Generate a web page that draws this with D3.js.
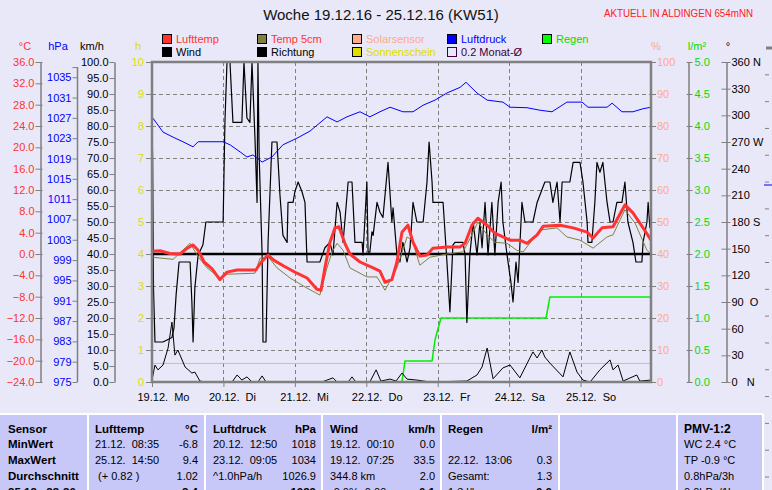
<!DOCTYPE html>
<html><head><meta charset="utf-8">
<script src="https://cdn.jsdelivr.net/npm/d3@7"></script>
<style>
html,body{margin:0;padding:0;background:#e8e8f8;overflow:hidden}
svg{display:block;font-family:"Liberation Sans",Arial,sans-serif}
text{white-space:pre}
</style></head><body>
<svg id="c" width="772" height="490"></svg>
<script>
// ---------- DATA ----------
const titleText = "Woche 19.12.16 - 25.12.16 (KW51)";
const locationText = "AKTUELL IN ALDINGEN 654mNN";
const dayLabels = ["19.12.  Mo","20.12.  Di","21.12.  Mi","22.12.  Do","23.12.  Fr","24.12.  Sa","25.12.  So"];
const tempTicks = d3.range(-24, 37, 4);
const pressTicks = d3.range(975, 1036, 4);
const windTicks = d3.range(0, 101, 5);
const sunTicks = d3.range(0, 11, 1);
const pctTicks = d3.range(0, 101, 10);
const rainTicks = d3.range(0, 5.01, 0.5);
const dirTicks = d3.range(0, 361, 30);
const dirLabels = {360:"360 N",330:"330",300:"300",270:"270 W",240:"240",210:"210",180:"180 S",150:"150",120:"120",90:"90  O",60:"60",30:"30",0:"0   N"};

// [hour since 19.12. 00:00, value]
const lufttemp = [[0,0.5],[2.7,0.6],[6.0,0.1],[9.4,0.0],[12.1,1.2],[13.8,1.7],[15.5,0.7],[17.5,-1.5],[20.2,-2.8],[22.8,-4.8],[25.2,-3.4],[28.6,-3.0],[34.9,-3.0],[36.6,-1.6],[39.0,-0.2],[41.0,-1.2],[44.4,-2.3],[48.7,-3.6],[52.1,-4.5],[55.4,-6.6],[56.8,-6.8],[58.1,-2.6],[59.8,2.2],[61.5,4.9],[62.8,5.1],[64.8,2.0],[66.5,0.0],[69.9,-1.5],[74.3,-2.6],[76.6,-3.2],[78.3,-5.3],[80.6,-4.8],[82.3,-1.5],[84.0,4.1],[86.0,5.4],[87.7,2.2],[90.0,-0.4],[92.4,-0.2],[94.4,1.1],[99.1,1.3],[103.5,1.3],[105.2,2.0],[107.5,5.4],[109.5,6.7],[112.6,5.4],[115.2,3.9],[120.3,2.6],[123.6,2.6],[126.0,2.0],[129.4,3.6],[131.4,5.2],[137.1,5.4],[141.5,4.9],[146.2,4.1],[148.2,3.0],[151.2,4.9],[154.9,5.1],[158.9,9.2],[161.6,7.7],[165.0,4.9],[167.7,2.6]];
const temp5cm = [[0,-0.6],[7.1,-1.0],[12.8,2.0],[15.5,-0.5],[18.5,-2.6],[22.8,-4.5],[25.2,-3.8],[34.6,-3.6],[36.3,-0.8],[39.0,-0.5],[42.0,-2.6],[46.4,-4.5],[52.1,-6.4],[56.4,-7.7],[58.8,-2.6],[60.5,0.4],[62.2,2.0],[64.2,0.7],[66.5,-2.6],[72.2,-4.3],[75.6,-4.3],[78.3,-6.8],[82.3,-2.6],[85.7,3.2],[87.4,2.6],[90.0,-2.1],[93.4,-0.6],[99.1,0.0],[104.5,0.4],[107.5,3.6],[109.5,6.0],[112.6,3.6],[115.2,2.2],[119.3,2.0],[122.6,0.7],[124.7,0.4],[130.4,4.5],[136.1,4.9],[139.4,3.2],[143.8,2.6],[148.2,1.1],[152.9,3.2],[154.9,3.6],[158.9,8.3],[162.3,5.8],[166.3,0.7],[167.7,0.0]];
const luftdruck = [[0,1027.2],[3.7,1024.2],[7.1,1023.2],[10.4,1022.3],[13.8,1021.3],[15.5,1022.3],[19.5,1022.3],[23.9,1022.3],[26.2,1021.7],[29.6,1020.3],[31.9,1019.3],[33.9,1019.7],[37.0,1018.3],[40.3,1019.3],[44.0,1021.7],[48.7,1023.0],[53.1,1024.4],[58.8,1027.2],[62.2,1026.2],[65.5,1027.2],[69.9,1028.2],[73.2,1027.2],[76.6,1028.2],[80.0,1029.1],[84.3,1028.2],[87.7,1028.2],[91.1,1029.5],[95.1,1030.5],[99.1,1031.9],[103.5,1033.0],[105.5,1034.0],[109.2,1031.9],[112.6,1030.5],[117.9,1030.1],[120.3,1029.1],[126.0,1029.0],[130.4,1028.5],[134.4,1028.2],[139.4,1030.1],[144.5,1030.1],[146.5,1029.1],[152.9,1029.1],[154.6,1029.9],[157.9,1028.2],[161.6,1028.2],[165.0,1028.8],[167.7,1029.1]];
const wind = [[0,0.6],[1.0,5.3],[2.0,3.8],[3.7,5.3],[5.4,10.6],[6.7,18.7],[7.7,8.4],[8.7,10.0],[11.1,4.7],[13.4,2.8],[14.4,3.1],[16.1,0.3],[17.8,0],[26.9,0],[28.6,2.2],[30.2,0.6],[31.9,1.6],[33.6,0],[35.6,0],[37.0,1.9],[38.3,0],[57.1,0],[58.8,0.6],[60.8,1.3],[62.2,0],[65.9,0],[67.2,1.6],[68.5,0],[73.2,0],[75.3,3.8],[76.9,0.3],[80.0,0.9],[82.0,0.3],[84.0,2.8],[85.7,0.9],[89.0,0.6],[93.4,0],[105.8,0.3],[109.2,2.2],[110.9,4.7],[112.6,10.6],[114.6,1.0],[117.9,4.4],[120.3,5.3],[123.6,1.3],[128.0,9.4],[129.4,7.5],[131.0,10.0],[132.0,7.8],[133.7,5.9],[138.1,1.6],[140.4,9.4],[142.8,3.1],[144.8,0.6],[147.2,0],[150.5,3.8],[153.9,6.9],[154.9,3.8],[156.6,5.3],[158.3,0.3],[162.9,2.2],[163.9,0.3],[167.7,0.6]];
const richtung = [[0,292],[0.2,252],[0.5,106],[1.0,45],[3.7,45],[6.7,50],[7.4,61],[8.1,98],[9.1,135],[12.8,135],[13.4,90],[13.8,45],[14.4,106],[15.5,143],[17.1,154],[18.1,180],[23.9,180],[24.5,292],[25.2,360],[26.2,360],[27.2,292],[30.2,292],[30.9,360],[31.9,297],[32.9,292],[33.6,360],[34.6,274],[35.3,202],[35.6,360],[36.0,255],[37.0,143],[37.3,45],[38.3,45],[39.0,157],[40.3,270],[42.0,270],[43.0,210],[44.0,165],[45.4,157],[45.7,202],[47.4,202],[48.0,214],[49.1,225],[50.4,214],[51.4,202],[52.1,135],[56.4,135],[58.1,151],[59.8,157],[60.8,143],[62.2,202],[63.2,191],[64.2,157],[65.9,225],[67.2,225],[68.2,157],[70.6,157],[70.9,143],[72.2,225],[72.6,146],[73.2,146],[73.9,169],[74.3,165],[75.6,202],[76.6,191],[77.6,185],[79.3,247],[80.6,180],[81.0,196],[82.3,143],[83.3,135],[84.3,157],[85.7,135],[86.7,151],[87.7,202],[89.0,180],[91.1,180],[92.4,225],[93.1,270],[94.1,225],[94.4,202],[97.8,202],[99.1,135],[100.1,79],[101.1,154],[101.8,157],[104.5,157],[105.2,143],[105.8,67],[106.8,143],[107.9,180],[109.2,143],[110.2,180],[110.9,151],[111.9,202],[112.9,143],[114.2,202],[115.2,143],[116.3,202],[117.3,225],[117.9,180],[119.3,143],[120.6,112],[121.3,90],[122.3,135],[123.0,112],[124.3,202],[125.3,180],[128.0,180],[129.4,202],[132.0,225],[133.7,225],[134.7,202],[136.1,225],[137.1,180],[137.8,225],[140.4,225],[141.5,247],[143.8,247],[144.8,225],[146.2,180],[146.5,157],[147.8,157],[148.8,202],[149.5,247],[150.5,236],[151.5,247],[152.9,202],[153.9,180],[154.9,180],[156.2,202],[157.9,202],[158.9,225],[159.9,180],[161.6,157],[162.6,135],[164.6,135],[165.0,157],[166.3,180],[166.7,202],[167.3,173]];
const regen = [[0,0],[84.0,0],[85.0,0.33],[94.1,0.33],[95.1,0.66],[97.1,1.0],[132.4,1.0],[133.7,1.33],[167.7,1.33]];
const solar = [[0,5.8],[24,5.8],[48,5.8],[72,5.8],[96,5.8],[120,5.8],[144,5.8],[167.7,5.8]];

const legendItems = [
  {name:"Lufttemp", fill:"#ff3333", text:"#ff3333"},
  {name:"Temp 5cm", fill:"#808040", text:"#ff3333"},
  {name:"Solarsensor", fill:"#ffaa88", text:"#ffaa88"},
  {name:"Luftdruck", fill:"#0000ff", text:"#0000ff"},
  {name:"Regen", fill:"#00ff00", text:"#00dd00"},
  {name:"Wind", fill:"#000000", text:"#000000"},
  {name:"Richtung", fill:"#000000", text:"#000000"},
  {name:"Sonnenschein", fill:"#dddd00", text:"#dddd00"},
  {name:"0.2 Monat-Ø", fill:"none", text:"#400040"}
];

const tableCol0 = ["Sensor","MinWert","MaxWert","Durchschnitt","25.12.  23:30"];
const tableLeft = [
  ["Lufttemp","21.12.  08:35","25.12.  14:50"," (+ 0.82 )",""],
  ["Luftdruck","20.12.  12:50","23.12.  09:05","^1.0hPa/h",""],
  ["Wind","19.12.  00:10","19.12.  07:25","344.8 km","-0.0%  0.00"],
  ["Regen","","22.12.  13:06","Gesamt:","1.3 l/h"]
];
const tableRight = [
  ["°C","-6.8","9.4","1.02","2.4"],
  ["hPa","1018","1034","1026.9","1029"],
  ["km/h","0.0","33.5","2.0","0.1"],
  ["l/m²","","0.3","1.3","0.0"]
];
const tablePMV = ["PMV-1:2","WC 2.4 °C","TP -0.9 °C","0.8hPa/3h","0.0hPa/1h"];

// ---------- LAYOUT ----------
const svg = d3.select("#c");
const X0=152, X1=652, Y0=62, Y1=382;
const FONT = 11;
const x = d3.scaleLinear().domain([0,168]).range([X0,X1]);
const yC = d3.scaleLinear().domain([-24,36]).range([Y1,Y0]);
const yP = d3.scaleLinear().domain([975,1038]).range([Y1,Y0]);
const yK = d3.scaleLinear().domain([0,100]).range([Y1,Y0]);
const yH = d3.scaleLinear().domain([0,10]).range([Y1,Y0]);
const yPct = d3.scaleLinear().domain([0,100]).range([Y1,Y0]);
const yR = d3.scaleLinear().domain([0,5]).range([Y1,Y0]);
const yD = d3.scaleLinear().domain([0,360]).range([Y1,Y0]);

svg.append("rect").attr("width",772).attr("height",490).attr("fill","#e8e8f8");

// title
svg.append("text").attr("x",381).attr("y",20).attr("text-anchor","middle")
  .attr("font-size",15).attr("fill","#111").text(titleText);
svg.append("text").attr("x",604).attr("y",17).attr("font-size",11)
  .attr("fill","#ff2020").attr("textLength",149).attr("lengthAdjust","spacingAndGlyphs").text(locationText);

// legend
const legCols=[162,257,352,447,542];
legendItems.forEach((d,i)=>{
  const row = i<5?0:1, col = i<5?i:i-5;
  const lx = legCols[col], ly = row===0?34:47;
  svg.append("rect").attr("x",lx+0.5).attr("y",ly+0.5).attr("width",9).attr("height",9)
    .attr("fill",d.fill).attr("stroke",d.fill==="none"?"#400040":"#000").attr("stroke-width",1);
  svg.append("text").attr("x",lx+14).attr("y",ly+9).attr("font-size",FONT).attr("fill",d.text).text(d.name);
});

// grid
const grid = svg.append("g").attr("stroke","#808080").attr("stroke-dasharray","4,3").attr("stroke-width",1);
d3.range(1,10).forEach(v=>{
  grid.append("line").attr("x1",X0).attr("x2",X1).attr("y1",Math.round(yH(v))+0.5).attr("y2",Math.round(yH(v))+0.5);
});
d3.range(1,7).forEach(k=>{
  grid.append("line").attr("x1",Math.round(x(k*24))+0.5).attr("x2",Math.round(x(k*24))+0.5).attr("y1",Y0).attr("y2",Y1);
});

// zero line
svg.append("line").attr("x1",X0).attr("x2",X1-1).attr("y1",yC(0)).attr("y2",yC(0))
  .attr("stroke","#000").attr("stroke-width",2.5);

function drawLine(data, ys, color, w){
  svg.append("path").datum(data)
    .attr("d", d3.line().x(d=>x(d[0])).y(d=>ys(d[1])))
    .attr("fill","none").attr("stroke",color).attr("stroke-width",w).attr("stroke-linejoin","round");
}
drawLine(solar, yPct, "#ffaa88", 1);
drawLine(regen, yR, "#00ee00", 1.5);
drawLine(wind, yK, "#000", 1);
drawLine(richtung, yD, "#000", 1.2);
drawLine(luftdruck, yP, "#0000ff", 1);
drawLine(temp5cm, yC, "#808040", 1);
drawLine(lufttemp, yC, "#ff3333", 3);

// frame
const frame = svg.append("g").attr("stroke","#808080").attr("stroke-width",2.5).attr("fill","none");
frame.append("path").attr("d",`M${X0},${Y1}V${Y0}H${X1-1}V${Y1}Z`);

// axes helper
function styleAxis(g, color, x1){
  g.attr("font-family",null).attr("font-size",null);
  g.select(".domain").attr("stroke","#808080").attr("stroke-width",1.5);
  g.selectAll(".tick line").attr("stroke","#808080").attr("stroke-width",1);
  if (x1!==undefined) g.selectAll(".tick line").attr("x1",x1);
  g.selectAll(".tick text").attr("fill",color).attr("font-size",FONT);
}
let g;
g = svg.append("g").attr("transform","translate(40.5,0)")
  .call(d3.axisLeft(yC).tickValues(tempTicks).tickFormat(d3.format(".1f")).tickSizeInner(5).tickSizeOuter(0).tickPadding(1));
styleAxis(g,"#ff3333",2);
g = svg.append("g").attr("transform","translate(77.5,0)")
  .call(d3.axisLeft(yP).tickValues(pressTicks.concat([1037])).tickFormat(v=>v===1037?"":v).tickSizeInner(5).tickSizeOuter(0).tickPadding(1));
styleAxis(g,"#0000ff");
g.select(".domain").attr("d",`M0,${yP(1037)}V${Y1}`);
g = svg.append("g").attr("transform","translate(114.5,0)")
  .call(d3.axisLeft(yK).tickValues(windTicks).tickFormat(d3.format(".1f")).tickSizeInner(5).tickSizeOuter(0).tickPadding(1));
styleAxis(g,"#000");
g = svg.append("g").attr("transform",`translate(${X0},0)`)
  .call(d3.axisLeft(yH).tickValues(sunTicks).tickFormat(d3.format("d")).tickSizeInner(6).tickSizeOuter(0).tickPadding(2));
styleAxis(g,"#dddd00");
g.select(".domain").remove();
g = svg.append("g").attr("transform",`translate(${X1-1},0)`)
  .call(d3.axisRight(yPct).tickValues(pctTicks).tickFormat(d3.format("d")).tickSizeInner(5).tickSizeOuter(0).tickPadding(1));
styleAxis(g,"#ffaa88");
g.select(".domain").remove();
g = svg.append("g").attr("transform","translate(688.5,0)")
  .call(d3.axisRight(yR).tickValues(rainTicks).tickFormat(d3.format(".1f")).tickSizeInner(4).tickSizeOuter(0).tickPadding(2));
styleAxis(g,"#00dd00",-2);
g = svg.append("g").attr("transform","translate(726.5,0)")
  .call(d3.axisRight(yD).tickValues(dirTicks).tickFormat(v=>dirLabels[v]).tickSizeInner(4).tickSizeOuter(0).tickPadding(1));
styleAxis(g,"#000",-5);

// axis titles
[["°C",25,"#ff3333"],["hPa",58,"#0000ff"],["km/h",92,"#000"],["h",138,"#dddd00"],
 ["%",656,"#ffaa88"],["l/m²",697,"#00dd00"],["°",728,"#000"]].forEach(t=>{
  svg.append("text").attr("x",t[1]).attr("y",50).attr("text-anchor","middle")
    .attr("font-size",FONT).attr("fill",t[2]).text(t[0]);
});

// x axis (days)
g = svg.append("g").attr("transform",`translate(0,${Y1})`)
  .call(d3.axisBottom(x).tickValues(d3.range(0,168,24)).tickFormat((v,i)=>dayLabels[i]).tickSizeInner(5).tickSizeOuter(0).tickPadding(6));
g.attr("font-family",null).attr("font-size",null);
g.select(".domain").remove();
g.selectAll(".tick line").attr("stroke","#808080");
g.selectAll(".tick text").attr("text-anchor","start").attr("dx",-15).attr("font-size",FONT).attr("fill","#000");

// ---------- TABLE ----------
const TY = 414;
const colEdges = [0,88,205,322,441,559,677,763];
const tbl = svg.append("g");
tbl.append("rect").attr("x",0).attr("y",TY).attr("width",763).attr("height",490-TY).attr("fill","#c8c8f8");
tbl.append("line").attr("x1",0).attr("x2",763).attr("y1",TY).attr("y2",TY).attr("stroke","#fff").attr("stroke-width",2);
colEdges.slice(1).forEach(e=>{
  tbl.append("line").attr("x1",e).attr("x2",e).attr("y1",TY).attr("y2",490).attr("stroke","#fff").attr("stroke-width",2);
});
const rowY = [433,448,464,480,496];
tableCol0.forEach((t,i)=>{
  tbl.append("text").attr("x",8).attr("y",rowY[i]).attr("font-size",11.5).attr("font-weight","bold").text(t);
});
const leftX=[95,213,330,448], rightX=[198,316,435,552];
tableLeft.forEach((col,c)=>{
  col.forEach((t,i)=>{
    tbl.append("text").attr("x",leftX[c]).attr("y",rowY[i]).attr("font-size",i===0?11.5:11)
      .attr("font-weight",i===0?"bold":"normal").text(t);
  });
  tableRight[c].forEach((t,i)=>{
    tbl.append("text").attr("x",rightX[c]).attr("y",rowY[i]).attr("text-anchor","end")
      .attr("font-size",(i===0||i===4)?11.5:11).attr("font-weight",(i===0||i===4)?"bold":"normal").text(t);
  });
});
tablePMV.forEach((t,i)=>{
  tbl.append("text").attr("x",684).attr("y",rowY[i]).attr("font-size",i===0?12:11)
    .attr("font-weight",i===0?"bold":"normal").text(t);
});

// partial next chart at the right edge
const nx = svg.append("g");
nx.append("line").attr("x1",766).attr("x2",772).attr("y1",48).attr("y2",48).attr("stroke","#808080").attr("stroke-width",3);
const nextGrid = d3.scaleLinear().domain([0,16]).range([48,477]);
d3.range(1,17).forEach(k=>{
  nx.append("line").attr("x1",765).attr("x2",769).attr("y1",nextGrid(k)).attr("y2",nextGrid(k)).attr("stroke","#808080");
});
nx.append("line").attr("x1",764).attr("x2",772).attr("y1",185).attr("y2",185).attr("stroke","#0000ff");
</script>
</body></html>
